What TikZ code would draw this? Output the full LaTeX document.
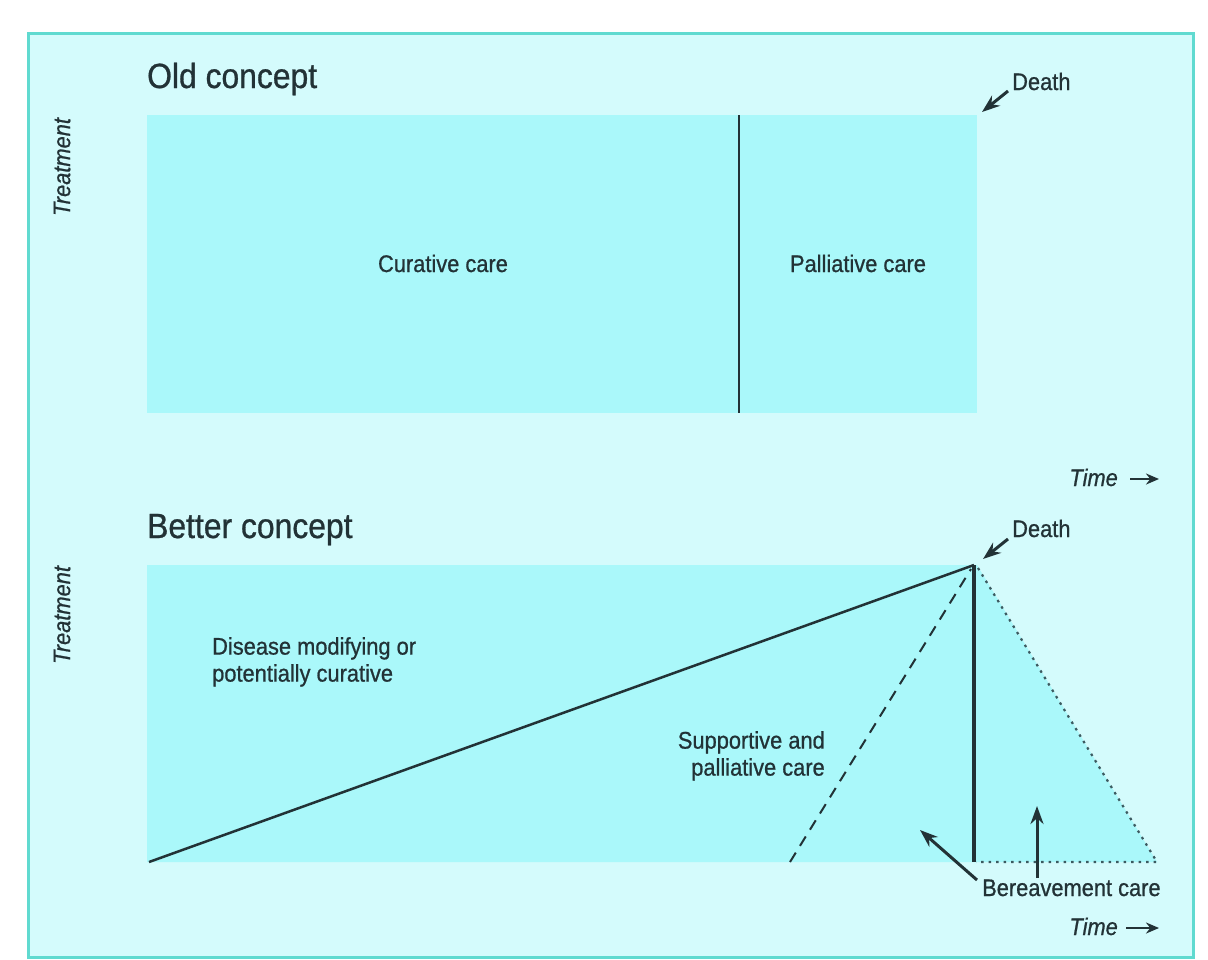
\documentclass[tikz,border=0pt]{standalone}
\usepackage{fontspec}
\setmainfont{Liberation Sans}[FakeStretch=0.91, FakeBold=0.8]
\usetikzlibrary{arrows.meta}

\definecolor{paper}{RGB}{212,251,252}
\definecolor{panel}{RGB}{170,248,250}
\definecolor{rim}{RGB}{96,218,208}
\definecolor{ink}{RGB}{34,50,54}
\definecolor{dotink}{RGB}{60,90,96}

\begin{document}
\begin{tikzpicture}[x=1pt,y=-1pt,
  lbl/.style={inner sep=0pt, text=ink, font=\fontsize{24}{27}\selectfont},
  heading/.style={inner sep=0pt, text=ink, font=\fontsize{35}{40}\selectfont},
  axislbl/.style={inner sep=0pt, text=ink, font=\fontsize{24}{27}\selectfont\itshape},
  pointer/.style={draw=ink, line width=3pt, -{Stealth[length=18pt,width=13pt]}},
  timearrow/.style={draw=ink, line width=2.6pt, -{Stealth[length=13pt,width=11pt]}},
  solidline/.style={draw=ink, line width=2.5pt},
  dashline/.style={draw=ink, line width=2pt, dash pattern=on 11pt off 8pt},
  dotline/.style={draw=dotink, line width=2.2pt, dash pattern=on 2.5pt off 5pt}
]
\useasboundingbox (0,0) rectangle (1208,959);

% page and frame
\fill[white] (0,0) rectangle (1208,959);
\fill[paper] (28,33) rectangle (1193,957);
\draw[rim, line width=3pt] (28,33) rectangle (1193,957);

% ---------- old concept ----------
\coordinate (oldTL) at (147,115);
\coordinate (oldBR) at (977,413);
\coordinate (splitT) at (739,115);
\coordinate (splitB) at (739,413);
\fill[panel] (oldTL) rectangle (oldBR);
\draw[ink, line width=2.5pt] (splitT) -- (splitB);

\node[heading, anchor=base west] (oldtitle) at (147,88) {Old concept};
\node[axislbl, rotate=90] (treat1) at (62,167) {Treatment};
\node[lbl, anchor=base] (curative) at (443,272) {Curative care};
\node[lbl, anchor=base] (palliative) at (858,272) {Palliative care};

\node[lbl, anchor=base west] (death1) at (1012,90) {Death};
\coordinate (death1tail) at (1008,91);
\coordinate (death1tip) at (982,112);
\draw[pointer] (death1tail) -- (death1tip);

\node[axislbl, anchor=base east] (time1) at (1118,486) {Time};
\coordinate (time1tail) at (1130,479);
\coordinate (time1tip) at (1159,479);
\draw[timearrow] (time1tail) -- (time1tip);

% ---------- better concept ----------
\coordinate (newTL) at (147,565);
\coordinate (newTR) at (977,565);
\coordinate (newBL) at (147,862);
\coordinate (bereaveEnd) at (1157,862);
\coordinate (start) at (149,862);
\coordinate (apex) at (974,565);
\coordinate (apexFoot) at (974,862);
\coordinate (dashFoot) at (790,862);
\coordinate (dashTop) at (971,569);
\coordinate (dotTop) at (978,568);
\coordinate (dotFoot) at (976,862);

\fill[panel] (newTL) -- (newTR) -- (bereaveEnd) -- (newBL) -- cycle;
\draw[solidline] (start) -- (apex);
\draw[draw=ink, line width=3.5pt] (apex) -- (apexFoot);
\draw[dashline] (dashFoot) -- (dashTop);
\draw[dotline] (dotTop) -- (bereaveEnd) -- (dotFoot);

\node[heading, anchor=base west] (bettertitle) at (147,538) {Better concept};
\node[axislbl, rotate=90] (treat2) at (62,615) {Treatment};

\node[lbl, anchor=north west, align=left] (disease) at (212,637)
  {Disease modifying or\\potentially curative};
\node[lbl, anchor=north east, align=right] (supportive) at (825,731)
  {Supportive and\\palliative care};

\node[lbl, anchor=base west] (death2) at (1012,537) {Death};
\coordinate (death2tail) at (1008,539);
\coordinate (death2tip) at (983,559);
\draw[pointer] (death2tail) -- (death2tip);

\node[lbl, anchor=base west] (bereave) at (982,896) {Bereavement care};
\coordinate (bereaveTailA) at (977,880);
\coordinate (bereaveTipA) at (920,830);
\coordinate (bereaveTailB) at (1037,878);
\coordinate (bereaveTipB) at (1037,806);
\draw[pointer] (bereaveTailA) -- (bereaveTipA);
\draw[pointer] (bereaveTailB) -- (bereaveTipB);

\node[axislbl, anchor=base east] (time2) at (1118,935) {Time};
\coordinate (time2tail) at (1126,928);
\coordinate (time2tip) at (1159,928);
\draw[timearrow] (time2tail) -- (time2tip);
\end{tikzpicture}
\end{document}
